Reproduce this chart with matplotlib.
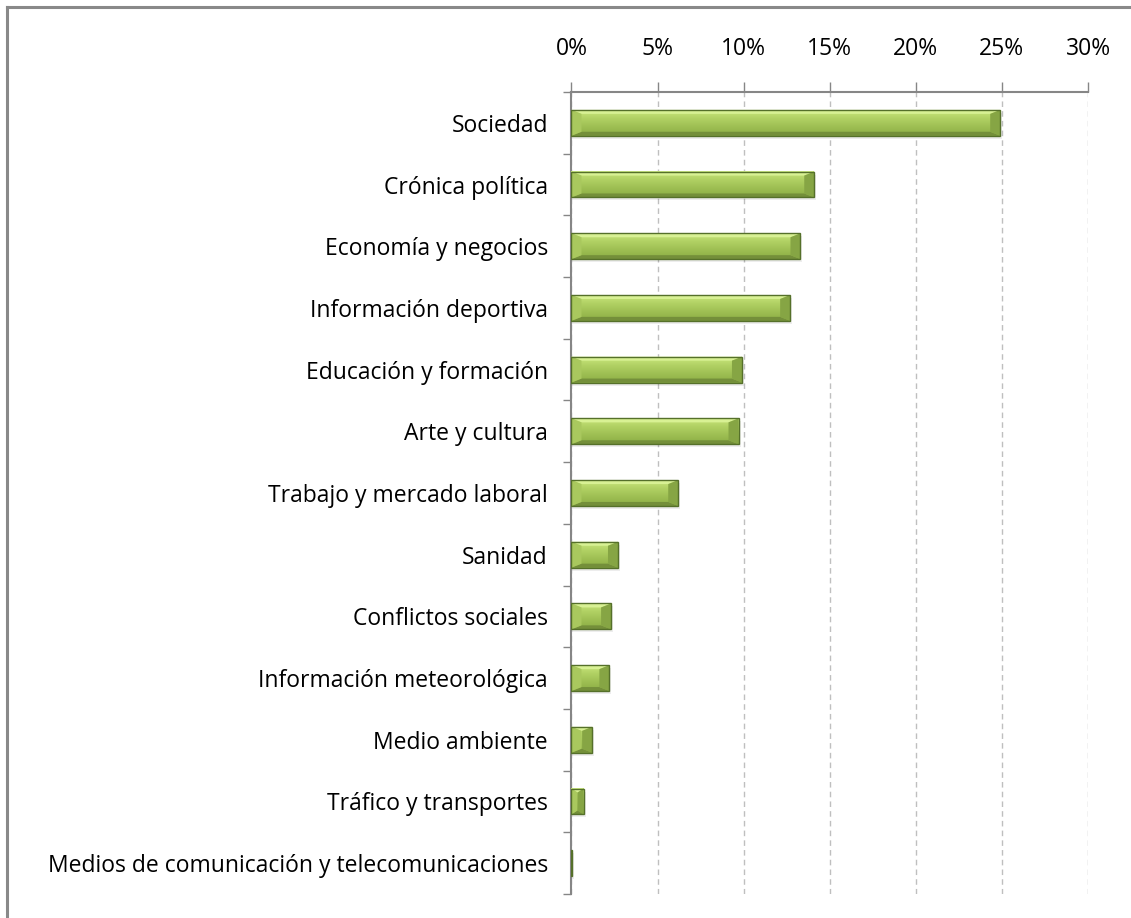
import numpy as np
import matplotlib.pyplot as plt
from matplotlib.patches import Polygon
from matplotlib.colors import LinearSegmentedColormap
from matplotlib.ticker import FuncFormatter, MultipleLocator
from matplotlib.lines import Line2D

plt.rcParams['font.family'] = ['Open Sans', 'DejaVu Sans']

# Data
categories = ["Sociedad", "Crónica política", "Economía y negocios",
              "Información deportiva", "Educación y formación", "Arte y cultura",
              "Trabajo y mercado laboral", "Sanidad", "Conflictos sociales",
              "Información meteorológica", "Medio ambiente",
              "Tráfico y transportes",
              "Medios de comunicación y telecomunicaciones"]
values = [24.9, 14.1, 13.3, 12.7, 9.9, 9.7, 6.2, 2.7, 2.3, 2.2, 1.2, 0.7, 0.05]

fig = plt.figure(figsize=(11.31, 9.18), dpi=100)
ax = fig.add_axes([0.5053, 0.0261, 0.4567, 0.8737])

n = len(categories)
ax.set_xlim(0, 30)
ax.set_ylim(n - 0.5, -0.5)

# pixel -> data unit conversion for the bevel
ax_w_px = fig.get_figwidth() * fig.dpi * 0.4567
ax_h_px = fig.get_figheight() * fig.dpi * 0.8737
px_x = 30 / ax_w_px
px_y = n / ax_h_px

cmap = LinearSegmentedColormap.from_list(
    "g", ["#c9e67c", "#b0d063", "#9dbe52", "#8bae45"])
grad = np.linspace(0, 1, 64).reshape(-1, 1)

bh = 0.42
for i, v in enumerate(values):
    top, bot = i - bh / 2, i + bh / 2
    # soft shadow
    ax.add_patch(plt.Rectangle((0, top + 3 * px_y), v + 2 * px_x, bh,
                               facecolor="#000000", alpha=0.07, lw=0, zorder=2))
    ax.imshow(grad, extent=(0, v, bot, top), cmap=cmap, aspect="auto",
              zorder=3, interpolation="bilinear")
    dx = min(10 * px_x, v / 2)
    dy = 4 * px_y
    ax.add_patch(Polygon([(0, top), (v, top), (v - dx, top + dy), (dx, top + dy)],
                         closed=True, facecolor="#d8f194", lw=0, zorder=4))
    ax.add_patch(Polygon([(0, bot), (v, bot), (v - dx, bot - dy), (dx, bot - dy)],
                         closed=True, facecolor="#748f3a", lw=0, zorder=4))
    ax.add_patch(Polygon([(0, top), (dx, top + dy), (dx, bot - dy), (0, bot)],
                         closed=True, facecolor="#a9c85e", lw=0, zorder=4))
    ax.add_patch(Polygon([(v, top), (v - dx, top + dy), (v - dx, bot - dy), (v, bot)],
                         closed=True, facecolor="#86a544", lw=0, zorder=4))
    ax.add_patch(plt.Rectangle((0, top), v, bh, facecolor="none",
                               edgecolor="#55702a", lw=1.0, zorder=5))

ax.set_xlim(0, 30)
ax.set_ylim(n - 0.5, -0.5)

# x axis on top
ax.xaxis.tick_top()
ax.xaxis.set_major_locator(MultipleLocator(5))
ax.xaxis.set_major_formatter(FuncFormatter(lambda x, p: f"{x:.0f}%"))
ax.tick_params(axis="x", direction="out", length=7, width=1, color="#868686",
               labelsize=16.5, pad=15, labelcolor="black")
ax.grid(axis="x", color="#bfbfbf", linestyle=(0, (4, 3)), linewidth=1, zorder=1)
ax.set_axisbelow(True)

# y axis
ax.set_yticks(range(n))
ax.set_yticklabels(categories)
ax.set_yticks(np.arange(-0.5, n, 1), minor=True)
ax.tick_params(axis="y", which="major", length=0, pad=17, labelsize=16.5)
ax.tick_params(axis="y", which="minor", direction="out", length=6, width=1,
               color="#868686")

for s in ["right", "bottom"]:
    ax.spines[s].set_visible(False)
for s in ["top", "left"]:
    ax.spines[s].set_color("#868686")
    ax.spines[s].set_linewidth(1.5)

# outer chart frame (left and top edges visible)
fig.add_artist(Line2D([6.5 / 1131, 6.5 / 1131], [0, 1 - 6.5 / 918],
                      transform=fig.transFigure, color="#898989", lw=2.2))
fig.add_artist(Line2D([6.5 / 1131, 1], [1 - 6.5 / 918, 1 - 6.5 / 918],
                      transform=fig.transFigure, color="#898989", lw=2.2))

fig.savefig("out.png", dpi=100)
